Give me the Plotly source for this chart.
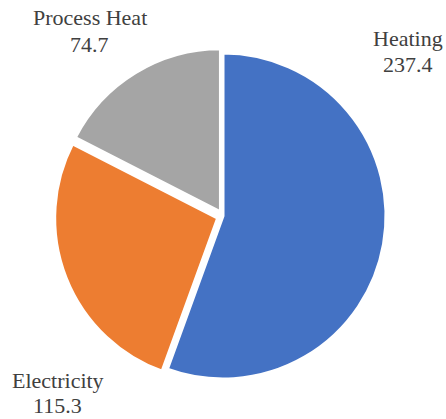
import plotly.graph_objects as go

# Energy demand by end use
categories = ["Heating", "Electricity", "Process Heat"]
values = [237.4, 115.3, 74.7]
colors = ["#4472C4", "#ED7D31", "#A5A5A5"]
pulls = [0, 0.035, 0.03]

W, H = 446, 419
SERIF = "Liberation Serif"

fig = go.Figure(
    go.Pie(
        labels=categories,
        values=values,
        sort=False,
        direction="clockwise",
        rotation=0,
        pull=pulls,
        marker=dict(colors=colors, line=dict(color="white", width=3)),
        textinfo="none",
        hoverinfo="label+value",
        showlegend=False,
        domain=dict(x=[0.1217, 0.8783], y=[0.0819, 0.8871]),
    )
)

# Label placement (pixel centres of name line and value line)
label_pos = {
    "Heating": (408, 38.5, 64.5),
    "Electricity": (57.5, 380.5, 405.5),
    "Process Heat": (89.5, 17.5, 44.5),
}

font = dict(family=SERIF, size=22, color="#404040")
for name, val in zip(categories, values):
    x, y1, y2 = label_pos[name]
    for txt, yy in ((name, y1), (f"{val:.1f}", y2)):
        fig.add_annotation(
            text=f"<span style='font-family:{SERIF}'>{txt}</span>",
            x=x / W, y=1 - yy / H, xref="paper", yref="paper",
            xanchor="center", yanchor="middle", showarrow=False, font=font,
        )

fig.update_layout(
    width=W, height=H,
    margin=dict(l=0, r=0, t=0, b=0),
    font=dict(family=SERIF),
    paper_bgcolor="white", plot_bgcolor="white",
)

fig.write_html("out.html")
